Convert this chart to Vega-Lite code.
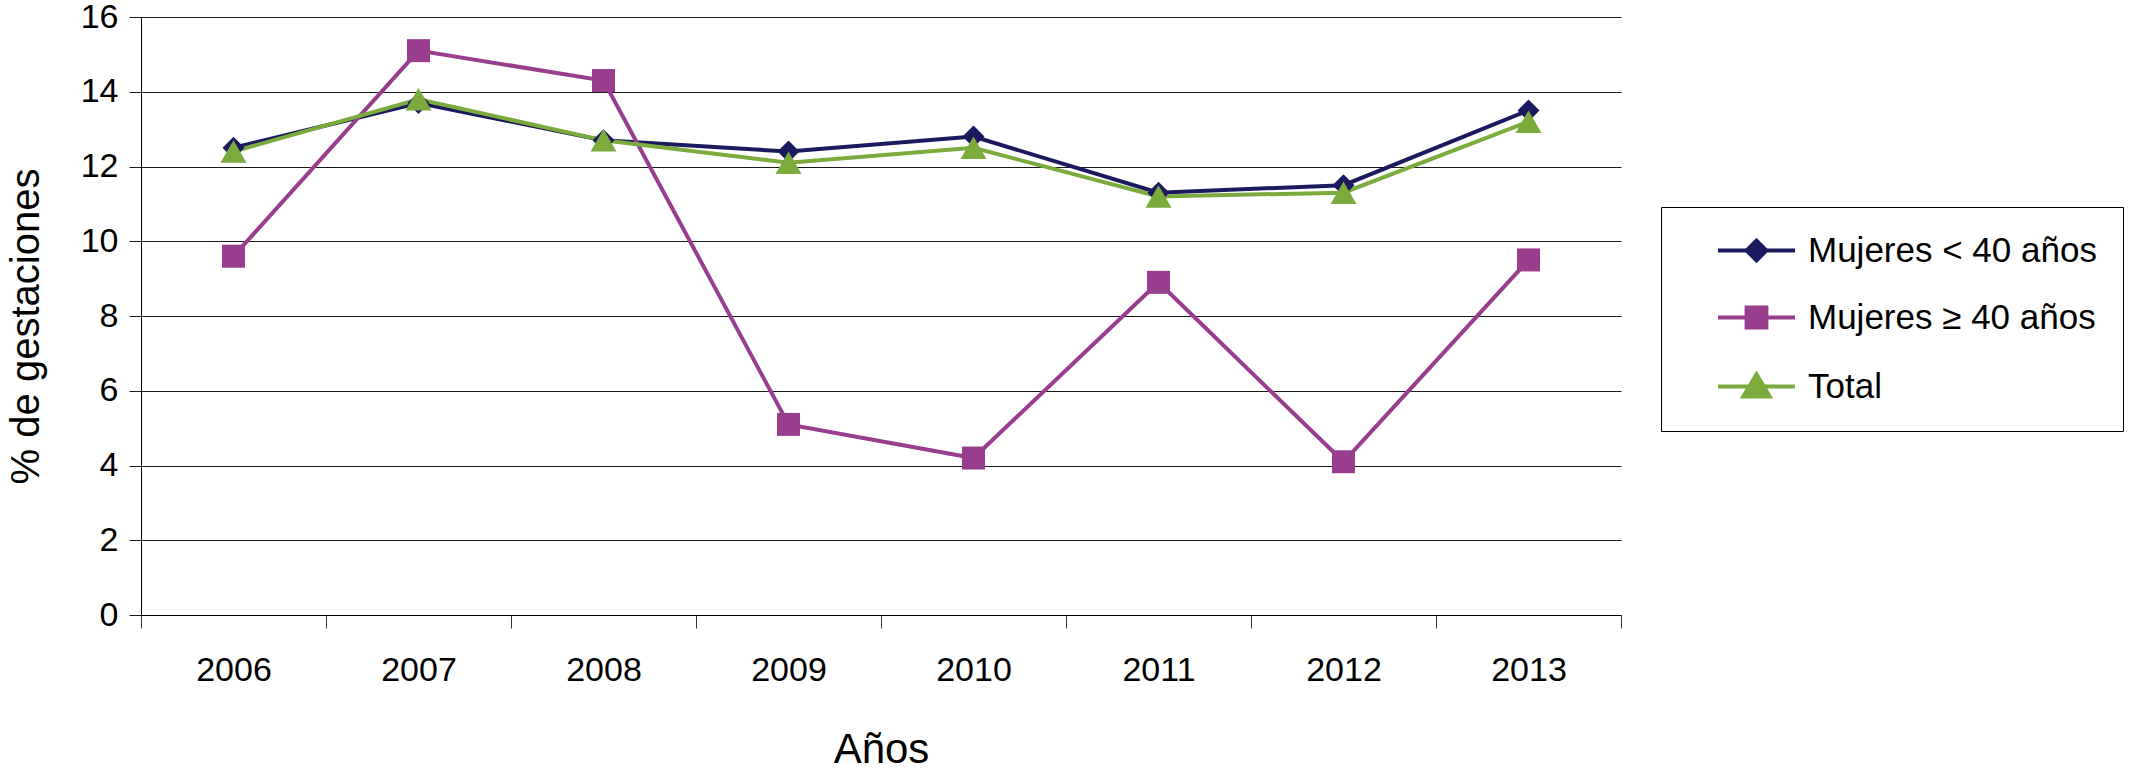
{
  "$schema": "https://vega.github.io/schema/vega-lite/v6.json",
  "autosize": {"type": "none"},
  "padding": {"left": 141, "top": 17, "right": 528, "bottom": 156},
  "width": 1480,
  "height": 598,
  "background": "white",
  "config": {
    "view": {"stroke": null},
    "font": "Liberation Sans",
    "axis": {
      "labelFont": "Liberation Sans",
      "titleFont": "Liberation Sans",
      "labelColor": "black",
      "titleColor": "black",
      "titleFontWeight": "normal",
      "labelFontSize": 34
    }
  },
  "data": {
    "values": [
      {"year": "2006", "series": "Mujeres < 40 años", "value": 12.5},
      {"year": "2007", "series": "Mujeres < 40 años", "value": 13.7},
      {"year": "2008", "series": "Mujeres < 40 años", "value": 12.7},
      {"year": "2009", "series": "Mujeres < 40 años", "value": 12.4},
      {"year": "2010", "series": "Mujeres < 40 años", "value": 12.8},
      {"year": "2011", "series": "Mujeres < 40 años", "value": 11.3},
      {"year": "2012", "series": "Mujeres < 40 años", "value": 11.5},
      {"year": "2013", "series": "Mujeres < 40 años", "value": 13.5},
      {"year": "2006", "series": "Mujeres ≥ 40 años", "value": 9.6},
      {"year": "2007", "series": "Mujeres ≥ 40 años", "value": 15.1},
      {"year": "2008", "series": "Mujeres ≥ 40 años", "value": 14.3},
      {"year": "2009", "series": "Mujeres ≥ 40 años", "value": 5.1},
      {"year": "2010", "series": "Mujeres ≥ 40 años", "value": 4.2},
      {"year": "2011", "series": "Mujeres ≥ 40 años", "value": 8.9},
      {"year": "2012", "series": "Mujeres ≥ 40 años", "value": 4.1},
      {"year": "2013", "series": "Mujeres ≥ 40 años", "value": 9.5},
      {"year": "2006", "series": "Total", "value": 12.4},
      {"year": "2007", "series": "Total", "value": 13.8},
      {"year": "2008", "series": "Total", "value": 12.7},
      {"year": "2009", "series": "Total", "value": 12.1},
      {"year": "2010", "series": "Total", "value": 12.5},
      {"year": "2011", "series": "Total", "value": 11.2},
      {"year": "2012", "series": "Total", "value": 11.3},
      {"year": "2013", "series": "Total", "value": 13.2}
    ]
  },
  "encoding": {
    "x": {
      "field": "year",
      "type": "ordinal",
      "scale": {"type": "band", "paddingInner": 0, "paddingOuter": 0},
      "axis": {
        "title": "Años",
        "titleFontSize": 42,
        "labelAngle": 0,
        "labelDx": -6,
        "tickBand": "extent",
        "domainColor": "black",
        "tickColor": "#333",
        "tickSize": 13,
        "labelPadding": 25,
        "titlePadding": 42,
        "grid": false
      }
    },
    "y": {
      "field": "value",
      "type": "quantitative",
      "scale": {"domain": [0, 16], "nice": false},
      "axis": {
        "title": "% de gestaciones",
        "titleFontSize": 40,
        "titleX": -95,
        "titleY": 309,
        "values": [0, 2, 4, 6, 8, 10, 12, 14, 16],
        "grid": true,
        "gridColor": "#1a1a1a",
        "gridOpacity": 1,
        "domainColor": "black",
        "tickColor": "#1a1a1a",
        "tickSize": 12,
        "labelPadding": 11
      }
    }
  },
  "layer": [
    {
      "mark": {"type": "line", "strokeWidth": 4},
      "encoding": {
        "color": {
          "field": "series",
          "type": "nominal",
          "scale": {
            "domain": ["Mujeres < 40 años", "Mujeres ≥ 40 años", "Total"],
            "range": ["#1c1a5e", "#993d8f", "#7aab3c"]
          },
          "legend": {
            "title": null,
            "orient": "none",
            "legendX": 1520,
            "legendY": 190,
            "padding": 26,
            "strokeColor": "black",
            "fillColor": "white",
            "symbolSize": 484,
            "symbolStrokeWidth": 4,
            "symbolOffset": 52,
            "labelOffset": 34,
            "rowPadding": 30,
            "labelFont": "Liberation Sans",
            "labelFontSize": 35,
            "labelColor": "black",
            "labelLimit": 800,
            "encode": {
              "symbols": {
                "update": {
                  "shape": {"signal": "datum.index === 0 ? 'M-3.5,0H3.5M0,-0.9L0.9,0L0,0.9L-0.9,0Z' : datum.index === 1 ? 'M-3.5,0H3.5M-0.9,-0.9H0.9V0.9H-0.9Z' : 'M-3.5,0H3.5M0,-1.1L1.2,0.9L-1.2,0.9Z'"},
                  "fill": {"signal": "scale('color', datum.value)"},
                  "strokeWidth": {"value": 4},
                  "strokeCap": {"value": "butt"},
                  "opacity": {"value": 1},
                  "fillOpacity": {"value": 1},
                  "strokeOpacity": {"value": 1}
                }
              }
            }
          }
        }
      }
    },
    {
      "transform": [{"filter": "datum.series === 'Mujeres < 40 años'"}],
      "mark": {"type": "point", "filled": true, "opacity": 1, "size": 484, "strokeWidth": 0, "shape": "diamond", "color": "#1c1a5e"}
    },
    {
      "transform": [{"filter": "datum.series === 'Mujeres ≥ 40 años'"}],
      "mark": {"type": "point", "filled": true, "opacity": 1, "size": 529, "strokeWidth": 0, "shape": "square", "color": "#993d8f"}
    },
    {
      "transform": [{"filter": "datum.series === 'Total'"}],
      "mark": {"type": "point", "filled": true, "opacity": 1, "size": 676, "strokeWidth": 0, "shape": "triangle-up", "color": "#7aab3c"}
    }
  ]
}
